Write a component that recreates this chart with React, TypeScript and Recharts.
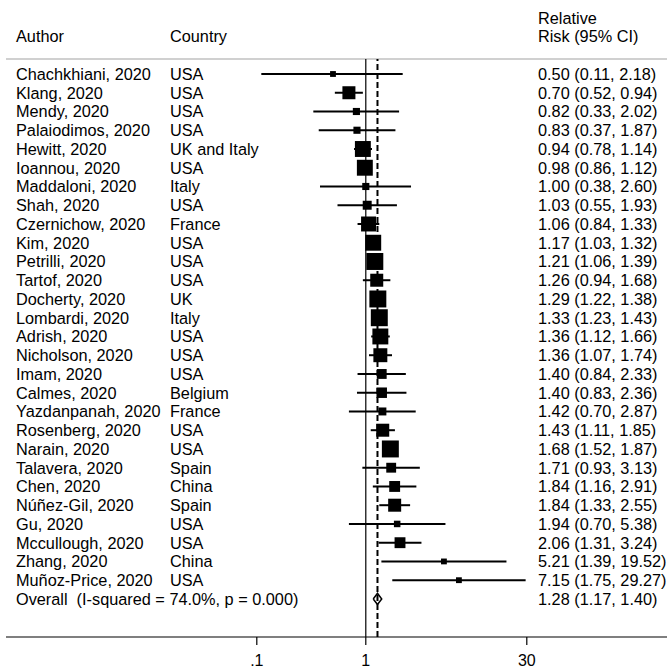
import React from 'react'
import { ComposedChart, Scatter, XAxis, YAxis, ReferenceLine } from 'recharts'

const authors: string[] = [
    'Chachkhiani, 2020', 'Klang, 2020', 'Mendy, 2020', 'Palaiodimos, 2020', 'Hewitt, 2020',
    'Ioannou, 2020', 'Maddaloni, 2020', 'Shah, 2020', 'Czernichow, 2020', 'Kim, 2020',
    'Petrilli, 2020', 'Tartof, 2020', 'Docherty, 2020', 'Lombardi, 2020', 'Adrish, 2020',
    'Nicholson, 2020', 'Imam, 2020', 'Calmes, 2020', 'Yazdanpanah, 2020', 'Rosenberg, 2020',
    'Narain, 2020', 'Talavera, 2020', 'Chen, 2020', 'Núñez-Gil, 2020', 'Gu, 2020',
    'Mccullough, 2020', 'Zhang, 2020', 'Muñoz-Price, 2020'
]
const countries: string[] = [
    'USA', 'USA', 'USA', 'USA', 'UK and Italy', 'USA', 'Italy', 'USA', 'France', 'USA',
    'USA', 'USA', 'UK', 'Italy', 'USA', 'USA', 'USA', 'Belgium', 'France', 'USA',
    'USA', 'Spain', 'China', 'Spain', 'USA', 'USA', 'China', 'USA'
]
const rr: number[] = [0.50, 0.70, 0.82, 0.83, 0.94, 0.98, 1.00, 1.03, 1.06, 1.17, 1.21, 1.26, 1.29, 1.33, 1.36, 1.36, 1.40, 1.40, 1.42, 1.43, 1.68, 1.71, 1.84, 1.84, 1.94, 2.06, 5.21, 7.15]
const lower: number[] = [0.11, 0.52, 0.33, 0.37, 0.78, 0.86, 0.38, 0.55, 0.84, 1.03, 1.06, 0.94, 1.22, 1.23, 1.12, 1.07, 0.84, 0.83, 0.70, 1.11, 1.52, 0.93, 1.16, 1.33, 0.70, 1.31, 1.39, 1.75]
const upper: number[] = [2.18, 0.94, 2.02, 1.87, 1.14, 1.12, 2.60, 1.93, 1.33, 1.32, 1.39, 1.68, 1.38, 1.43, 1.66, 1.74, 2.33, 2.36, 2.87, 1.85, 1.87, 3.13, 2.91, 2.55, 5.38, 3.24, 19.52, 29.27]
// study weights (%)
const weights: number[] = [0.8, 4.0, 1.2, 1.2, 6.0, 6.0, 1.2, 1.9, 5.3, 6.0, 6.8, 4.0, 6.8, 6.8, 6.0, 4.6, 2.3, 2.6, 1.5, 4.0, 6.8, 2.3, 2.8, 4.0, 1.0, 2.8, 0.8, 0.8]

const overallLabel = 'Overall  (I-squared = 74.0%, p = 0.000)'
const overallRR = 1.28
const overallLower = 1.17
const overallUpper = 1.40

const xTicks: number[] = [0.1, 1, 30]

const FONT = '"Liberation Sans", Arial, sans-serif'
const fmt = (v: number) => v.toFixed(2)

interface IRow {
    rr: number,
    idx: number,
    lo: number,
    hi: number,
    w: number,
    author: string,
    country: string,
    ci: string
}

const rows: IRow[] = authors.map((a, i) => ({
    rr: rr[i],
    idx: i,
    lo: lower[i],
    hi: upper[i],
    w: weights[i],
    author: a,
    country: countries[i],
    ci: `${fmt(rr[i])} (${fmt(lower[i])}, ${fmt(upper[i])})`
}))

const overallIdx = rows.length
const overallRow = [{
    rr: overallRR,
    idx: overallIdx,
    label: overallLabel,
    ci: `${fmt(overallRR)} (${fmt(overallLower)}, ${fmt(overallUpper)})`
}]

// diamond outline through the pooled estimate and its CI
const diamond = [
    { rr: overallLower, idx: overallIdx },
    { rr: overallRR, idx: overallIdx - 0.3 },
    { rr: overallUpper, idx: overallIdx },
    { rr: overallRR, idx: overallIdx + 0.3 },
    { rr: overallLower, idx: overallIdx }
]

const textProps = { fontSize: 16.3, fontFamily: FONT, fill: '#000', dy: '0.36em' }

const StudyShape = (props: any) => {
    const { cx, cy, payload } = props
    const s = 6.5 * Math.sqrt(payload.w)
    return (
        <g>
            <rect x={cx - s / 2} y={cy - s / 2} width={s} height={s} fill="#000" />
            <text x={16} y={cy} {...textProps}>{payload.author}</text>
            <text x={170} y={cy} {...textProps}>{payload.country}</text>
            <text x={538} y={cy} {...textProps}>{payload.ci}</text>
        </g>
    )
}

const OverallShape = (props: any) => {
    const { cy, payload } = props
    return (
        <g>
            <text x={16} y={cy} {...textProps} style={{ whiteSpace: 'pre' }}>{payload.label}</text>
            <text x={538} y={cy} {...textProps}>{payload.ci}</text>
        </g>
    )
}

const Header = () => (
    <svg width={667} height={58} style={{ position: 'absolute', left: 0, top: 0 }}>
        <g fontFamily={FONT} fontSize={16.3} fill="#000">
            <text x={16} y={42}>Author</text>
            <text x={170} y={42}>Country</text>
            <text x={538} y={23.5}>Relative</text>
            <text x={538} y={42}>Risk (95% CI)</text>
        </g>
    </svg>
)

const renderTick = (props: any) => {
    const { x, y, payload } = props
    const v: number = payload.value
    return (
        <text x={x} y={y} dy="0.71em" textAnchor="middle" fontSize={16} fontFamily={FONT} fill="#000">
            {v === 0.1 ? '.1' : String(v)}
        </text>
    )
}

const App: React.FunctionComponent = () => {
    return (
        <div style={{ position: 'absolute', left: 0, top: 0, width: 667, height: 670, background: '#fff', fontFamily: FONT }}>
            <ComposedChart width={667} height={670} margin={{ top: 59, right: 0, bottom: 3, left: 6 }}>
                <XAxis
                    type="number"
                    dataKey="rr"
                    scale="log"
                    domain={[0.0005, 580]}
                    allowDataOverflow
                    ticks={xTicks}
                    tick={renderTick}
                    tickSize={8}
                    tickMargin={10}
                    height={30}
                    axisLine={{ stroke: '#000', strokeWidth: 1.2 }}
                    tickLine={{ stroke: '#000', strokeWidth: 1.2 }}
                />
                <YAxis type="number" dataKey="idx" domain={[-0.8, 30.03]} reversed hide allowDataOverflow />
                <ReferenceLine y={-0.8} stroke="#d0d0d0" strokeWidth={2} />
                <ReferenceLine x={1} stroke="#000" strokeWidth={1.2} />
                <ReferenceLine x={overallRR} stroke="#000" strokeWidth={2} strokeDasharray="6 3" />
                {rows.map((r) => (
                    <ReferenceLine
                        key={`ci-${r.idx}`}
                        segment={[{ x: r.lo, y: r.idx }, { x: r.hi, y: r.idx }]}
                        stroke="#000"
                        strokeWidth={2}
                    />
                ))}
                <Scatter data={rows} dataKey="idx" shape={<StudyShape />} isAnimationActive={false} />
                <Scatter
                    data={diamond}
                    dataKey="idx"
                    fill="#fff"
                    line={{ stroke: '#000', strokeWidth: 1.5 }}
                    lineType="joint"
                    shape={() => <g />}
                    isAnimationActive={false}
                />
                <Scatter data={overallRow} dataKey="idx" shape={<OverallShape />} isAnimationActive={false} />
            </ComposedChart>
            <Header />
        </div>
    )
}

export default App
